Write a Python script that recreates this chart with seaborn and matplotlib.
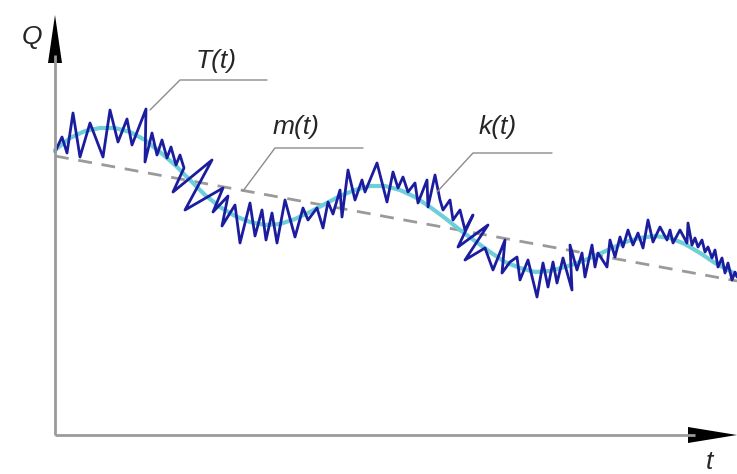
import numpy as np
import pandas as pd
import matplotlib
matplotlib.use("Agg")
import matplotlib.pyplot as plt
import seaborn as sns

# values (picture units: x to the right, y downwards)
X0, Y0 = 55, 435          # origin of the Q/t axes

# k(t): observed series, zigzag vertices
k_x = [55, 62, 67, 73, 80, 90, 103, 110, 118, 127, 132, 146, 145,
       152, 157, 162, 167, 171, 176, 180, 184, 173, 212, 185, 223, 213, 228, 222, 235,
       240, 250, 255, 262, 266, 272, 277, 285, 295, 303, 308, 317, 323, 328, 333, 340, 342,
       348, 355, 362, 365, 377, 387, 393, 398, 403, 408, 415, 418, 427, 428, 435, 440, 443,
       450, 453, 460, 465, 473, 458, 488, 465, 485, 493, 505, 502,
       510, 517, 520, 528, 537, 543, 548, 553, 557, 563, 572, 570, 577, 582, 585, 592, 595,
       598, 607, 610, 615, 620, 623, 628, 633, 638, 643, 648, 653, 660, 667, 670, 673, 680,
       687, 688, 692, 695, 698, 702, 705, 708, 712, 715, 718, 722, 725, 728, 732, 735, 737]
k_y = [152, 137, 153, 113, 157, 123, 157, 110, 142, 119, 145, 109, 162,
       133, 155, 140, 158, 147, 165, 155, 168, 192, 160, 210, 188, 212, 196, 226, 205,
       243, 203, 236, 210, 240, 213, 243, 200, 237, 208, 220, 208, 228, 202, 214, 190, 217,
       170, 200, 180, 192, 163, 202, 172, 188, 177, 192, 183, 203, 180, 207, 175, 200, 210,
       200, 220, 210, 230, 215, 247, 225, 260, 248, 270, 240, 273,
       262, 257, 280, 260, 297, 263, 287, 262, 283, 258, 290, 245, 270, 253, 277, 245, 267,
       253, 267, 240, 257, 237, 247, 230, 245, 233, 248, 220, 242, 227, 240, 230, 243, 230,
       243, 223, 245, 238, 247, 240, 252, 247, 258, 250, 267, 258, 273, 263, 280, 272, 277]

# m(t): smooth cyclic component
m_x = [55, 70, 85, 100, 115, 130, 145, 160, 175, 190, 205, 220, 235, 250, 265, 280, 295, 310,
       325, 340, 355, 370, 385, 400, 415, 430, 445, 460, 475, 490, 505, 520, 535, 550, 565,
       580, 595, 610, 625, 640, 655, 670, 685, 700, 715, 730, 737]
m_y = [150, 138, 131, 128, 128, 132, 140, 152, 165, 180, 195, 207, 216, 222, 225, 224, 219, 212,
       204, 196, 190, 186, 186, 190, 197, 207, 218, 230, 241, 252, 262, 268, 272, 271, 267,
       262, 256, 249, 242, 238, 236, 238, 244, 253, 263, 271, 275]

# trend (dashed)
tr_x = [55, 737]
tr_y = [156, 281]

k_df = pd.DataFrame({"t": np.array(k_x) - X0, "Q": Y0 - np.array(k_y)})
m_df = pd.DataFrame({"t": np.array(m_x) - X0, "Q": Y0 - np.array(m_y)})
tr_df = pd.DataFrame({"t": np.array(tr_x) - X0, "Q": Y0 - np.array(tr_y)})

sns.set_style("white")
plt.rcParams["font.family"] = ["Liberation Sans", "DejaVu Sans"]

fig = plt.figure(figsize=(7.37, 4.74), dpi=100)
ax = fig.add_axes([0, 0, 1, 1])
ax.set_xlim(-X0, 737 - X0)
ax.set_ylim(Y0 - 474, Y0)
ax.axis("off")

sns.lineplot(data=tr_df, x="t", y="Q", ax=ax, color="#9a9a9a", lw=2,
             linestyle=(0, (5, 3.5)), sort=False, estimator=None)
sns.lineplot(data=m_df, x="t", y="Q", ax=ax, color="#6dcfda", lw=3,
             sort=False, estimator=None)
sns.lineplot(data=k_df, x="t", y="Q", ax=ax, color="#1c1c9e", lw=2,
             sort=False, estimator=None)

# axes with arrowheads
ax.plot([0, 0], [0, 380], color="#9a9a9a", lw=2, solid_capstyle="butt")
ax.plot([0, 640], [0, 0], color="#9a9a9a", lw=2, solid_capstyle="butt")
ax.fill([-7, 0, 7], [372, 420, 372], color="black", lw=0)
ax.fill([633, 682, 633], [8, 0, -8], color="black", lw=0)

# leader lines
lead = "#8c8c8c"
ax.plot(np.array([150, 180, 267]) - X0, Y0 - np.array([110, 80, 80]), color=lead, lw=1)
ax.plot(np.array([243, 275, 363]) - X0, Y0 - np.array([191, 148, 148]), color=lead, lw=1)
ax.plot(np.array([437, 473, 552]) - X0, Y0 - np.array([192, 153, 153]), color=lead, lw=1)

fs = 19
ax.text(32 - X0, Y0 - 37, "Q", fontsize=fs, style="italic", ha="center", va="center")
ax.text(216 - X0, Y0 - 61, "T(t)", fontsize=fs, style="italic", ha="center", va="center")
ax.text(296 - X0, Y0 - 127, "m(t)", fontsize=fs, style="italic", ha="center", va="center")
ax.text(498 - X0, Y0 - 127, "k(t)", fontsize=fs, style="italic", ha="center", va="center")
ax.text(709 - X0, Y0 - 462, "t", fontsize=fs, style="italic", ha="center", va="center")

fig.savefig("out.png", dpi=100)
